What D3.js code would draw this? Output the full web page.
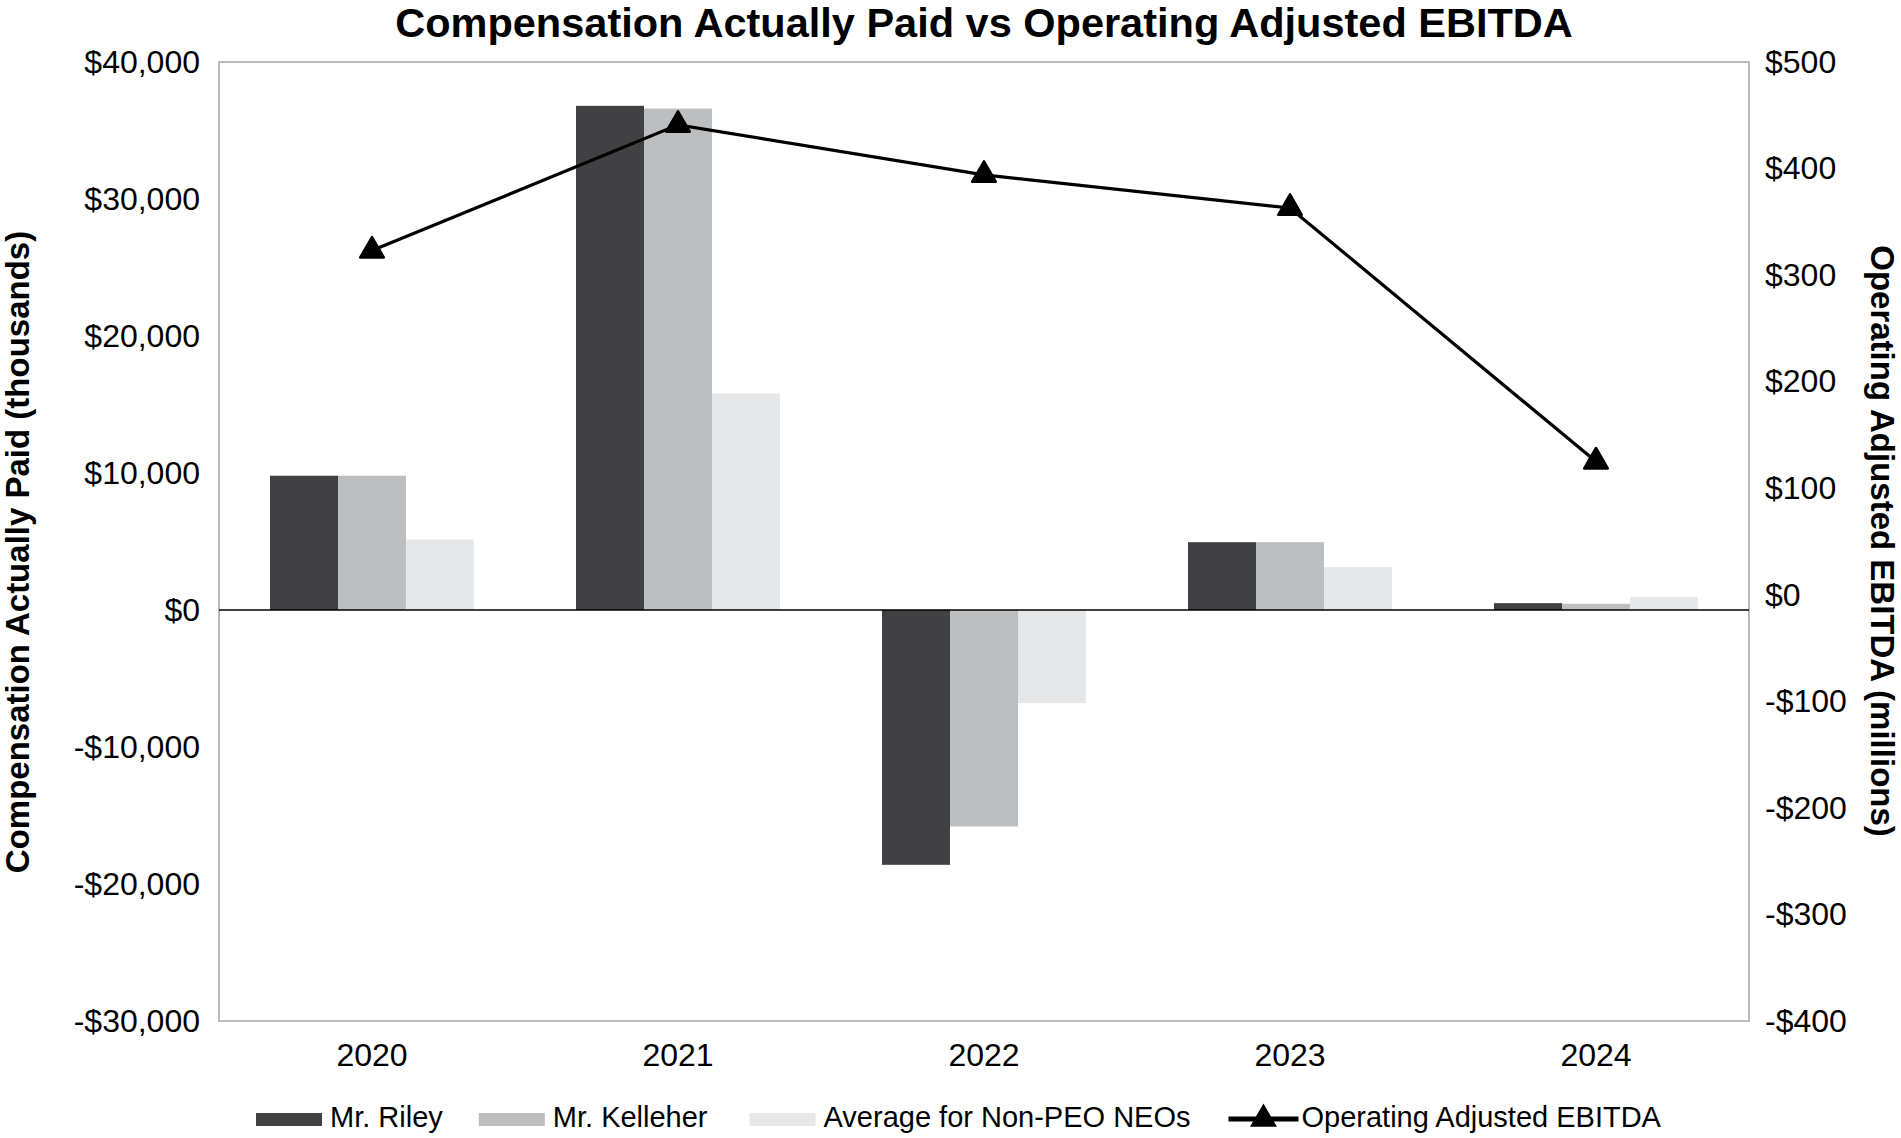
<!DOCTYPE html>
<html lang="en">
<head>
    <meta charset="utf-8">
    <script src="https://cdn.jsdelivr.net/npm/d3@7/dist/d3.min.js"></script>
    <style>
        body {
            margin: 0;
            background: #fff;
        }

        text {
            font-family: "Liberation Sans", Arial, sans-serif;
            fill: #000;
        }

        .tick text {
            font-size: 32px;
        }

        .axis path {
            display: none;
        }

        .title {
            font-size: 41.5px;
            font-weight: bold;
        }

        .axis-title {
            font-size: 33px;
            font-weight: bold;
        }

        .legend text {
            font-size: 29px;
        }
    </style>
</head>
<body>
<div id="chart"></div>

<script>
    // data
    var years = ["2020", "2021", "2022", "2023", "2024"];
    var seriesNames = ["Mr. Riley", "Mr. Kelleher", "Average for Non-PEO NEOs"];
    var riley = [9800, 36800, -18600, 4950, 500];
    var kelleher = [9800, 36600, -15800, 4950, 450];
    var nonPeo = [5150, 15800, -6800, 3130, 950];
    var ebitda = [323, 441, 394, 363, 125];
    var lineName = "Operating Adjusted EBITDA";

    var leftTicks = [-30000, -20000, -10000, 0, 10000, 20000, 30000, 40000];
    var rightTicks = [-400, -300, -200, -100, 0, 100, 200, 300, 400, 500];

    var colors = ["#414143", "#bdbec0", "#e6e7e8"];

    var W = 1901, H = 1138;
    var margin = {top: 62, right: 152, bottom: 117, left: 219};
    var width = W - margin.left - margin.right;
    var height = H - margin.top - margin.bottom;

    var svg = d3.select("#chart").append("svg")
        .attr("width", W)
        .attr("height", H);

    var g = svg.append("g")
        .attr("transform", "translate(" + margin.left + "," + margin.top + ")");

    // scales
    var x0 = d3.scaleBand()
        .domain(years)
        .range([0, width])
        .paddingInner(0)
        .paddingOuter(0);

    var x1 = d3.scaleBand()
        .domain(seriesNames)
        .range([0, x0.bandwidth()])
        .paddingInner(0)
        .paddingOuter(0.75);

    var y = d3.scaleLinear()
        .domain([-30000, 40000])
        .range([height, 0]);

    var y2 = d3.scaleLinear()
        .domain([-400, 500])
        .range([height, 0]);

    var money = function (d) {
        return (d < 0 ? "-" : "") + "$" + d3.format(",")(Math.abs(d));
    };

    // plot border
    g.append("rect")
        .attr("x", 0)
        .attr("y", 0)
        .attr("width", width)
        .attr("height", height)
        .attr("fill", "none")
        .attr("stroke", "#a6a6a6")
        .attr("stroke-width", 1.5);

    // bars
    var rows = years.map(function (yr, i) {
        return {year: yr, values: [riley[i], kelleher[i], nonPeo[i]]};
    });

    var groups = g.selectAll(".group")
        .data(rows)
        .enter().append("g")
        .attr("class", "group")
        .attr("transform", function (d) {
            return "translate(" + x0(d.year) + ",0)";
        });

    groups.selectAll("rect")
        .data(function (d) {
            return d.values.map(function (v, k) {
                return {name: seriesNames[k], value: v, k: k};
            });
        })
        .enter().append("rect")
        .attr("x", function (d) { return x1(d.name); })
        .attr("width", x1.bandwidth())
        .attr("y", function (d) { return y(Math.max(0, d.value)); })
        .attr("height", function (d) { return Math.abs(y(d.value) - y(0)); })
        .attr("fill", function (d) { return colors[d.k]; });

    // zero line
    g.append("line")
        .attr("x1", 0)
        .attr("x2", width)
        .attr("y1", y(0))
        .attr("y2", y(0))
        .attr("stroke", "#000")
        .attr("stroke-width", 1.5);

    // line series
    var line = d3.line()
        .x(function (d, i) { return x0(years[i]) + x0.bandwidth() / 2; })
        .y(function (d) { return y2(d); });

    g.append("path")
        .datum(ebitda)
        .attr("fill", "none")
        .attr("stroke", "#000")
        .attr("stroke-width", 3.2)
        .attr("d", line);

    var tri = d3.symbol().type(d3.symbolTriangle).size(240);

    g.selectAll(".marker")
        .data(ebitda)
        .enter().append("path")
        .attr("class", "marker")
        .attr("d", tri)
        .attr("transform", function (d, i) {
            return "translate(" + (x0(years[i]) + x0.bandwidth() / 2) + "," + y2(d) + ")";
        })
        .attr("fill", "#000")
        .attr("stroke", "#000")
        .attr("stroke-width", 2.5)
        .attr("stroke-linejoin", "round");

    // axes
    g.append("g")
        .attr("class", "axis")
        .call(d3.axisLeft(y).tickValues(leftTicks).tickFormat(money).tickSize(0).tickPadding(19));

    g.append("g")
        .attr("class", "axis")
        .attr("transform", "translate(" + width + ",0)")
        .call(d3.axisRight(y2).tickValues(rightTicks).tickFormat(money).tickSize(0).tickPadding(16));

    g.append("g")
        .attr("class", "axis")
        .attr("transform", "translate(0," + height + ")")
        .call(d3.axisBottom(x0).tickSize(0).tickPadding(22));

    // titles
    svg.append("text")
        .attr("class", "title")
        .attr("x", margin.left + width / 2)
        .attr("y", 37)
        .attr("text-anchor", "middle")
        .text("Compensation Actually Paid vs Operating Adjusted EBITDA");

    svg.append("text")
        .attr("class", "axis-title")
        .attr("transform", "translate(29," + 552 + ") rotate(-90)")
        .attr("text-anchor", "middle")
        .text("Compensation Actually Paid (thousands)");

    svg.append("text")
        .attr("class", "axis-title")
        .attr("transform", "translate(1871," + 541 + ") rotate(90)")
        .attr("text-anchor", "middle")
        .text("Operating Adjusted EBITDA (millions)");

    // legend
    var legend = svg.append("g").attr("class", "legend");
    var lx = 256, ly = 1127;
    var gaps = [36, 42, 38];

    seriesNames.forEach(function (name, k) {
        legend.append("rect")
            .attr("x", lx)
            .attr("y", ly - 14)
            .attr("width", 66)
            .attr("height", 13)
            .attr("fill", colors[k]);
        var t = legend.append("text")
            .attr("x", lx + 74)
            .attr("y", ly)
            .text(name);
        lx = lx + 74 + t.node().getComputedTextLength() + gaps[k];
    });

    legend.append("line")
        .attr("x1", lx)
        .attr("x2", lx + 70)
        .attr("y1", ly - 8)
        .attr("y2", ly - 8)
        .attr("stroke", "#000")
        .attr("stroke-width", 5);

    legend.append("path")
        .attr("d", tri)
        .attr("transform", "translate(" + (lx + 35) + "," + (ly - 8) + ")")
        .attr("fill", "#000")
        .attr("stroke", "#000")
        .attr("stroke-width", 2);

    legend.append("text")
        .attr("x", lx + 73)
        .attr("y", ly)
        .text(lineName);
</script>
</body>
</html>
